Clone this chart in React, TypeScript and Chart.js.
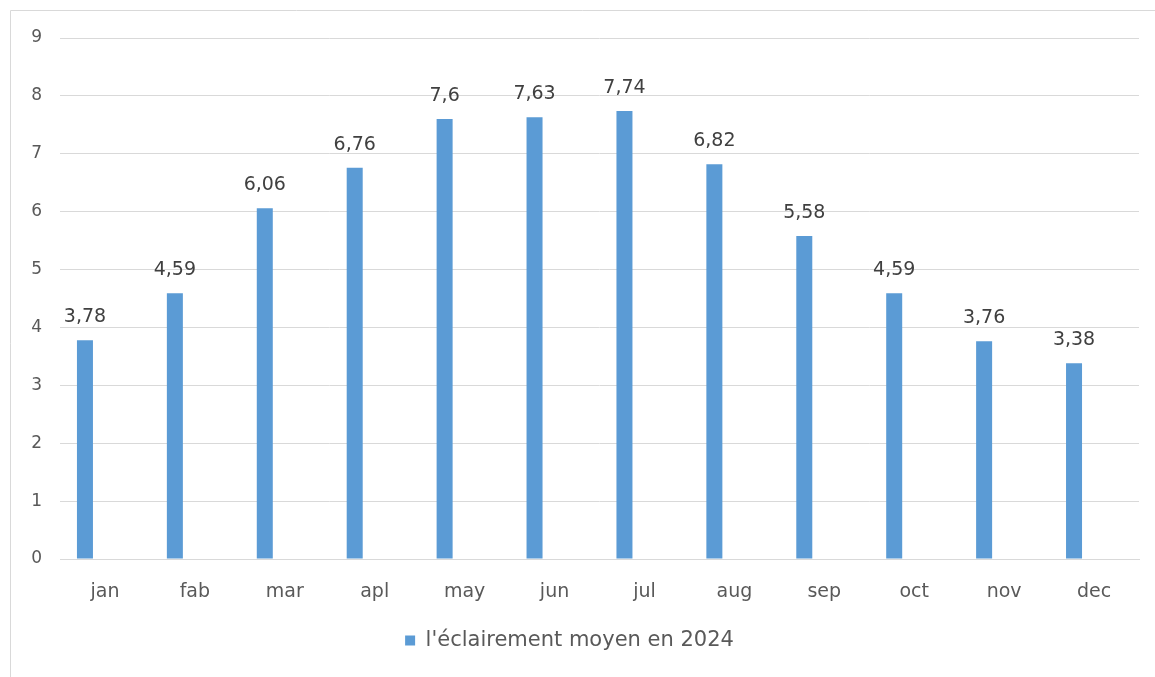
import React, { useEffect, useRef } from "react";
import { Chart, registerables } from "chart.js";

Chart.register(...registerables);

const categories = ["jan", "fab", "mar", "apl", "may", "jun", "jul", "aug", "sep", "oct", "nov", "dec"];
const seriesLabel = "l'éclairement moyen en 2024";
const values = [3.78, 4.59, 6.06, 6.76, 7.6, 7.63, 7.74, 6.82, 5.58, 4.59, 3.76, 3.38];
const valueLabels = ["3,78", "4,59", "6,06", "6,76", "7,6", "7,63", "7,74", "6,82", "5,58", "4,59", "3,76", "3,38"];
const emptySeries = values.map(() => null);

const FONT = "'DejaVu Sans', sans-serif";

const valueLabelPlugin = {
  id: "valueLabels",
  afterDatasetsDraw(chart: any) {
    const meta = chart.getDatasetMeta(0);
    const ctx = chart.ctx;
    ctx.save();
    ctx.font = `19px ${FONT}`;
    ctx.fillStyle = "#404040";
    ctx.textAlign = "center";
    ctx.textBaseline = "middle";
    meta.data.forEach((bar: any, i: number) => {
      ctx.fillText(valueLabels[i], bar.x, bar.y - 23);
    });
    ctx.restore();
  },
};

const framePlugin = {
  id: "frame",
  beforeDraw(chart: any) {
    const ctx = chart.ctx;
    ctx.save();
    ctx.strokeStyle = "#d9d9d9";
    ctx.lineWidth = 1;
    ctx.beginPath();
    ctx.moveTo(10.5, chart.height);
    ctx.lineTo(10.5, 10.5);
    ctx.lineTo(chart.width, 10.5);
    ctx.stroke();
    ctx.restore();
  },
};

export default function App() {
  const ref = useRef<HTMLCanvasElement>(null);
  useEffect(() => {
    if (!ref.current) return;
    const chart = new Chart(ref.current, {
      type: "bar",
      data: {
        labels: categories,
        datasets: [
          {
            label: seriesLabel,
            data: values,
            backgroundColor: "#5B9BD5",
            borderWidth: 0,
            categoryPercentage: 0.89,
            barPercentage: 0.4,
          },
          {
            label: "",
            data: emptySeries as any,
            backgroundColor: "rgba(0,0,0,0)",
            categoryPercentage: 0.89,
            barPercentage: 0.4,
          },
        ],
      },
      options: {
        animation: false,
        responsive: false,
        maintainAspectRatio: false,
        layout: { padding: { left: 0, right: 16, top: 38, bottom: 16 } },
        plugins: {
          legend: {
            position: "bottom",
            labels: {
              filter: (item: any) => item.datasetIndex === 0,
              boxWidth: 10,
              boxHeight: 10,
              padding: 10,
              color: "#595959",
              font: { family: FONT, size: 21 },
            },
          },
          tooltip: { enabled: false },
        },
        scales: {
          x: {
            grid: { display: false, drawTicks: false },
            border: { color: "#d9d9d9" },
            ticks: { color: "#595959", font: { family: FONT, size: 19 }, padding: 22 },
            afterFit: (s: any) => { s.height = 61; },
          },
          y: {
            min: 0,
            max: 9,
            ticks: { stepSize: 1, color: "#595959", font: { family: FONT, size: 17 }, padding: 18 },
            grid: { color: "#d9d9d9", lineWidth: 1, drawTicks: false },
            border: { display: false },
            afterFit: (s: any) => { s.width = 60; },
          },
        },
      },
      plugins: [framePlugin, valueLabelPlugin],
    });
    return () => chart.destroy();
  }, []);
  return (
    <div style={{ position: "fixed", left: 0, top: 0, width: 1155, height: 677, background: "#fff", overflow: "hidden" }}>
      <canvas ref={ref} width={1155} height={677} style={{ position: "absolute", left: 0, top: 0 }} />
    </div>
  );
}
